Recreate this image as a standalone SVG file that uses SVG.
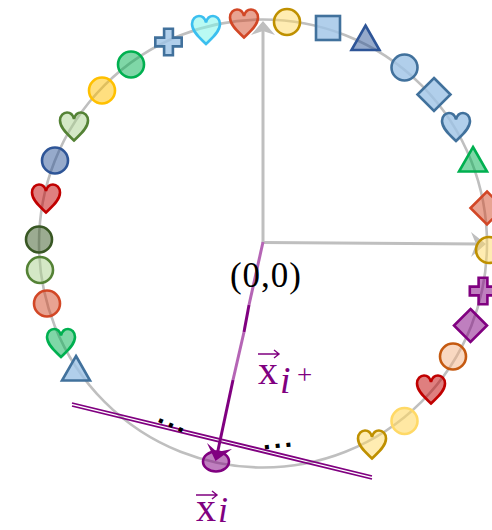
<svg xmlns="http://www.w3.org/2000/svg" width="492" height="530" viewBox="0 0 492 530">
<style>
.s{stroke-width:2.6;stroke-linejoin:miter}
.c1{fill:#2E5597;fill-opacity:.5;stroke:#2E5597}
.lb{fill:#9DC3E6;fill-opacity:.8;stroke:#41719C}
.gr{fill:#00B050;fill-opacity:.5;stroke:#00B050}
.ye{fill:#FFC000;fill-opacity:.5;stroke:#FFC000}
.lg{fill:#A9D18E;fill-opacity:.5;stroke:#548235}
.dg{fill:#385723;fill-opacity:.5;stroke:#385723}
.rd{fill:#C00000;fill-opacity:.5;stroke:#C00000}
.or{fill:#D24726;fill-opacity:.5;stroke:#D24726}
.cy{fill:#7FF5EA;fill-opacity:.55;stroke:#3BBFEF}
.go{fill:#FFD966;fill-opacity:.5;stroke:#BF9000}
.pu{fill:#800080;fill-opacity:.5;stroke:#800080}
.pe{fill:#F4B183;fill-opacity:.5;stroke:#C55A11}
.fy{fill:#FFD966;fill-opacity:.6;stroke:#FFD966}
.t{font-family:"Liberation Serif",serif}
.m{fill:#800080;font-family:"Liberation Serif",serif;font-size:40px}
.v{fill:none;stroke:#800080;stroke-width:1.4}
.dots{font-family:"Liberation Sans",sans-serif;font-weight:bold;font-size:28px;letter-spacing:3px;fill:#000}
</style>
<defs>
<path id="h" d="M0,14 C-5,9 -14,2 -14,-6 C-14,-11 -10.500,-14 -7,-14 C-3.500,-14 -1,-11.500 0,-7.500 C1,-11.500 3.500,-14 7,-14 C10.500,-14 14,-11 14,-6 C14,2 5,9 0,14Z"/>
<path id="p" d="M-4.400,-13.200 H4.400 V-4.400 H13.200 V4.400 H4.400 V13.200 H-4.400 V4.400 H-13.200 V-4.400 H-4.400Z"/>
<path id="d" d="M0,-16.500 L16.500,0 L0,16.500 L-16.500,0Z"/>
<path id="t" d="M0,-14 L14,10.500 H-14Z"/>
</defs>
<g id="connectors" fill="none">
<circle cx="263" cy="243.500" r="224" stroke="#BFBFBF" stroke-width="2.600"/>
<path d="M263,243 V28" stroke="#BFBFBF" stroke-width="3"/>
<path d="M263,21 L275,35 L263,31 L251,35Z" fill="#BFBFBF"/>
<path d="M263,242.500 L480,244" stroke="#BFBFBF" stroke-width="3"/>
<path d="M486,244 L471,232 L476,244 L471,257Z" fill="#BFBFBF"/>
<path d="M263,242 L249,305" stroke="#B565B5" stroke-width="3"/>
<path d="M249,305 L244,332" stroke="#800080" stroke-width="3"/>
<path d="M244,332 L233,380" stroke="#B565B5" stroke-width="3"/>
<path d="M233,380 L217,455" stroke="#800080" stroke-width="3"/>
<path d="M72,403 L372,476" stroke="#800080" stroke-width="1.800"/>
<path d="M72,406 L372,479" stroke="#800080" stroke-width="1.800"/>
</g>
<g id="n1" class="s lb"><use href="#p" x="168.500" y="42"/></g>
<g id="n2" class="s cy"><use href="#h" x="206" y="30"/></g>
<g id="n3" class="s or"><use href="#h" x="244" y="23.500"/></g>
<g id="n4" class="s go"><circle cx="287" cy="22" r="13"/></g>
<g id="n5" class="s lb"><rect x="316" y="16" width="24" height="24"/></g>
<g id="n6" class="s c1"><use href="#t" x="365.500" y="39.500"/></g>
<g id="n7" class="s lb"><circle cx="404.500" cy="67.500" r="13"/></g>
<g id="n8" class="s lb"><use href="#d" x="434" y="94.500"/></g>
<g id="n9" class="s lb"><use href="#h" x="456" y="127"/></g>
<g id="n10" class="s gr"><use href="#t" x="473" y="161"/></g>
<g id="n11" class="s or"><use href="#d" x="487" y="208"/></g>
<g id="n12" class="s go"><circle cx="489" cy="250" r="13"/></g>
<g id="n13" class="s pu"><use href="#p" x="483" y="291"/></g>
<g id="n14" class="s pu"><use href="#d" x="470.500" y="325.500"/></g>
<g id="n15" class="s pe"><circle cx="453" cy="356.500" r="13"/></g>
<g id="n16" class="s rd"><use href="#h" x="431" y="389.500"/></g>
<g id="n17" class="s fy"><circle cx="404.500" cy="421" r="13"/></g>
<g id="n18" class="s go"><use href="#h" x="372" y="444.500"/></g>
<g id="n19" class="s pu"><ellipse cx="216" cy="461.500" rx="13" ry="10"/></g>
<g id="n20" class="s c1"><circle cx="55" cy="160.500" r="13"/></g>
<g id="n21" class="s lg"><use href="#h" x="74" y="126.500"/></g>
<g id="n22" class="s ye"><circle cx="102" cy="90.500" r="13"/></g>
<g id="n23" class="s gr"><circle cx="131" cy="64.500" r="13"/></g>
<g id="n24" class="s rd"><use href="#h" x="46" y="198.500"/></g>
<g id="n25" class="s dg"><circle cx="39" cy="239.500" r="13"/></g>
<g id="n26" class="s lg"><circle cx="40" cy="270" r="13"/></g>
<g id="n27" class="s or"><circle cx="47" cy="303.500" r="13"/></g>
<g id="n28" class="s gr"><use href="#h" x="61" y="343"/></g>
<g id="n29" class="s lb"><use href="#t" x="76" y="370"/></g>
<path id="head" d="M215.500,461 L207,443 L217,452 L232,449Z" fill="#800080"/>
<g id="labels">
<text class="t" x="266" y="287" font-size="35" letter-spacing="1" text-anchor="middle" fill="#000">(0,0)</text>
<text class="m" x="258" y="384">x</text><text class="m" x="280" y="393" font-style="italic" style="font-size:38px">i</text><text class="m" x="297" y="384" style="font-size:27px">+</text>
<path class="v" d="M258,354 H278 M274,350 L279,354 L274,358"/>
<text class="m" x="196" y="521">x</text><text class="m" x="218" y="522" font-style="italic" style="font-size:36px">i</text>
<path class="v" d="M196,495 H216 M212,491 L217,495 L212,499"/>
<text class="dots" transform="translate(156.600,421.200) rotate(24)">...</text>
<text class="dots" transform="translate(263.300,449.400) rotate(-6)">...</text>
</g>
</svg>
